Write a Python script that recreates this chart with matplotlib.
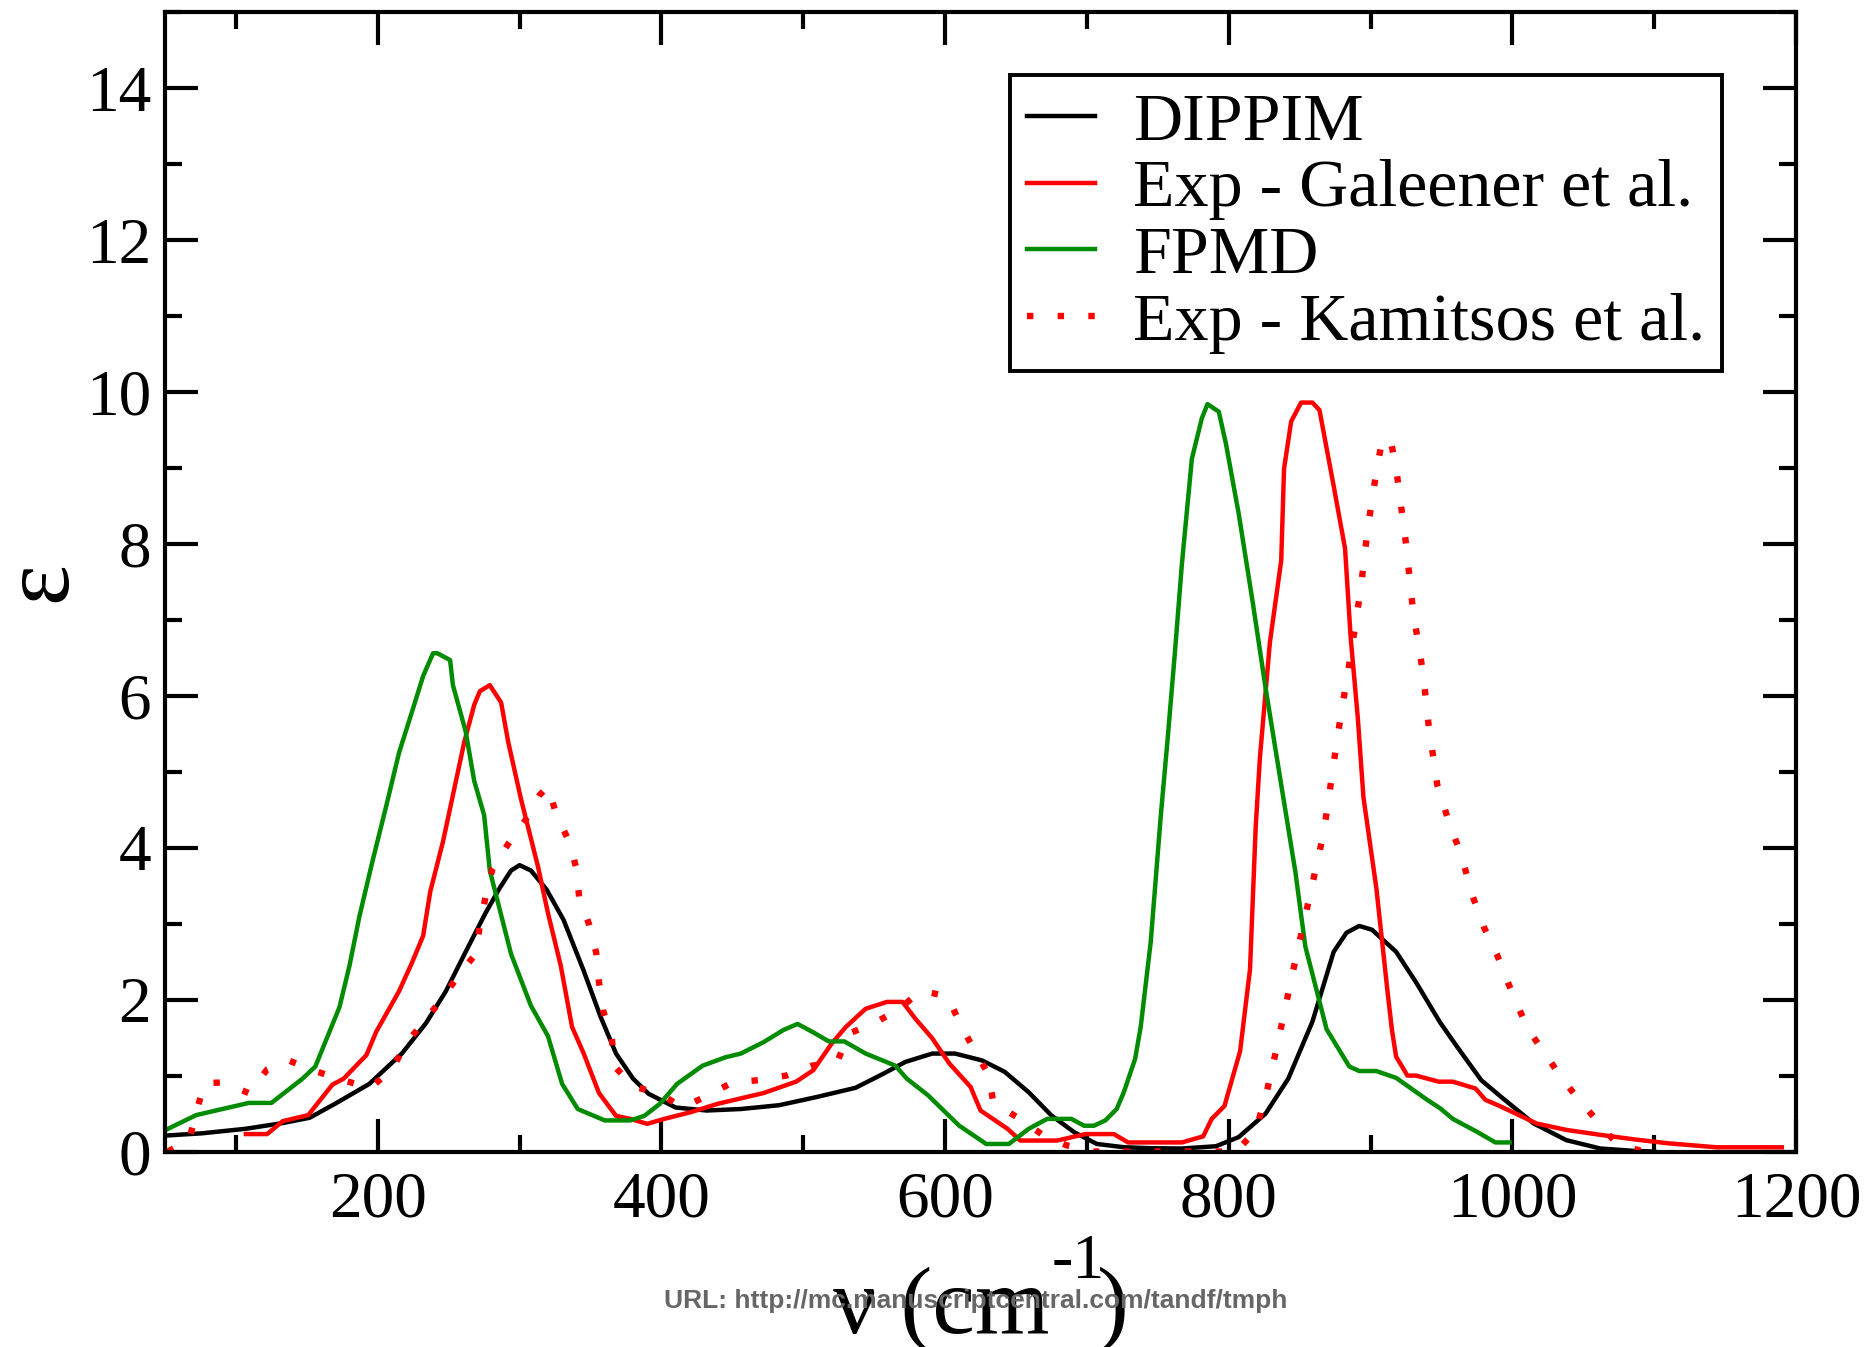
import matplotlib
matplotlib.use("Agg")
import matplotlib.pyplot as plt
from matplotlib.ticker import MultipleLocator

plt.rcParams["font.family"] = ["Liberation Serif", "DejaVu Serif"]

# ==============================
# DATA
# ==============================
# DIPPIM (black)
dippim_x = [50, 76, 107, 133, 152, 170, 194, 217, 234, 248, 262, 276, 286, 294, 300, 308,
            319, 331, 345, 357, 368, 380, 391, 410, 432, 456, 483, 510, 537, 556, 572, 591,
            607, 626, 642, 659, 675, 691, 707, 726, 745, 767, 791, 807, 826, 842, 859, 874,
            883, 892, 901, 918, 932, 949, 961, 978, 992, 1015, 1038, 1062, 1085, 1100]
dippim_y = [0.21, 0.24, 0.30, 0.375, 0.445, 0.63, 0.89, 1.29, 1.69, 2.11, 2.63, 3.14, 3.47, 3.70, 3.77, 3.70,
            3.45, 3.05, 2.39, 1.78, 1.29, 0.96, 0.76, 0.58, 0.54, 0.56, 0.61, 0.72, 0.84, 1.02, 1.18, 1.29,
            1.29, 1.20, 1.05, 0.78, 0.475, 0.255, 0.10, 0.057, 0.044, 0.04, 0.07, 0.19, 0.50, 0.96, 1.71, 2.63,
            2.88, 2.97, 2.92, 2.63, 2.23, 1.70, 1.38, 0.94, 0.72, 0.37, 0.15, 0.04, 0.01, 0.0]

# Exp - Galeener et al. (red, solid)
gal_x = [107, 122, 133, 151, 168, 176, 192, 199, 215, 224, 232, 237, 246, 254, 261, 268,
         272, 279, 287, 292, 301, 313, 320, 329, 337, 345, 356, 368, 378, 390, 402, 421,
         440, 472, 495, 507, 520, 530, 544, 559, 570, 579, 591, 603, 618, 625, 644, 653,
         679, 699, 719, 729, 767, 782, 788, 797, 808, 815, 819, 822, 829, 837, 839, 844,
         851, 859, 864, 874, 882, 886, 891, 895, 904, 912, 915, 918, 926, 932, 948, 958,
         974, 981, 991, 1017, 1038, 1062, 1086, 1109, 1144, 1190]
gal_y = [0.23, 0.23, 0.40, 0.48, 0.88, 0.96, 1.27, 1.58, 2.11, 2.48, 2.84, 3.42, 4.08, 4.78, 5.39, 5.88,
         6.06, 6.14, 5.91, 5.39, 4.64, 3.75, 3.14, 2.45, 1.64, 1.30, 0.77, 0.47, 0.43, 0.365, 0.43, 0.52,
         0.63, 0.77, 0.92, 1.07, 1.42, 1.64, 1.88, 1.97, 1.97, 1.75, 1.49, 1.16, 0.85, 0.54, 0.30, 0.145,
         0.145, 0.23, 0.23, 0.12, 0.12, 0.20, 0.43, 0.60, 1.32, 2.40, 4.27, 5.19, 6.70, 7.78, 8.99, 9.61,
         9.86, 9.86, 9.76, 8.76, 7.94, 6.76, 5.71, 4.66, 3.48, 2.10, 1.61, 1.25, 1.00, 1.00, 0.92, 0.92,
         0.83, 0.68, 0.60, 0.37, 0.285, 0.22, 0.16, 0.11, 0.056, 0.056]

# FPMD (green)
fpmd_x = [50, 72, 109, 125, 147, 156, 173, 180, 187, 196, 206, 215, 225, 232, 239, 242,
          251, 253, 262, 268, 275, 279, 294, 308, 320, 330, 341, 360, 378, 388, 399, 411,
          429, 445, 456, 472, 486, 496, 507, 518, 529, 544, 565, 573, 588, 610, 629, 645,
          659, 672, 689, 698, 705, 713, 721, 726, 734, 738, 745, 752, 757, 762, 767, 774,
          781, 785, 793, 798, 807, 817, 826, 835, 847, 854, 869, 885, 892, 904, 918, 940,
          949, 958, 975, 988, 998]
fpmd_y = [0.28, 0.48, 0.64, 0.64, 0.96, 1.12, 1.90, 2.44, 3.09, 3.80, 4.55, 5.25, 5.84, 6.26, 6.56, 6.56,
          6.47, 6.14, 5.53, 4.88, 4.43, 3.70, 2.60, 1.92, 1.52, 0.89, 0.56, 0.41, 0.41, 0.47, 0.63, 0.89,
          1.13, 1.24, 1.29, 1.44, 1.60, 1.68, 1.57, 1.45, 1.45, 1.29, 1.13, 0.96, 0.74, 0.34, 0.10, 0.10,
          0.30, 0.43, 0.43, 0.34, 0.34, 0.41, 0.56, 0.78, 1.22, 1.65, 2.76, 4.40, 5.45, 6.56, 7.74, 9.12,
          9.65, 9.84, 9.74, 9.32, 8.40, 7.22, 6.10, 5.06, 3.68, 2.70, 1.61, 1.12, 1.06, 1.06, 0.97, 0.68,
          0.57, 0.43, 0.26, 0.12, 0.12]

# Exp - Kamitsos et al. (red, dotted)
kam_x = [52, 67, 72, 78, 91, 109, 122, 137, 156, 175, 195, 210, 220, 232, 245, 257,
         269, 272, 276, 281, 292, 304, 314, 320, 326, 335, 340, 342, 349, 354, 356, 359,
         365, 367, 380, 399, 415, 434, 450, 469, 488, 506, 524, 532, 551, 568, 583, 602,
         611, 621, 631, 634, 651, 668, 686, 705, 760, 805, 819, 827, 834, 847, 856, 867,
         877, 887, 893, 898, 904, 908, 914, 918, 925, 930, 937, 941, 947, 955, 964, 972,
         980, 989, 995, 1003, 1011, 1023, 1035, 1047, 1060, 1074, 1093]
kam_y = [0.0, 0.15, 0.52, 0.90, 0.91, 0.77, 1.08, 1.20, 1.06, 0.94, 0.84, 1.08, 1.42, 1.70, 2.00, 2.32,
         2.60, 2.98, 3.35, 3.73, 4.05, 4.36, 4.69, 4.81, 4.43, 4.08, 3.73, 3.35, 2.99, 2.62, 2.23, 1.85,
         1.50, 1.12, 0.86, 0.76, 0.58, 0.75, 0.91, 0.94, 1.00, 1.13, 1.18, 1.55, 1.70, 1.88, 2.12, 2.04,
         1.66, 1.33, 1.00, 0.64, 0.45, 0.23, 0.08, 0.0, 0.0, 0.0, 0.27, 0.80, 1.38, 2.52, 3.27, 4.20,
         5.50, 6.65, 7.40, 8.20, 8.94, 9.35, 9.38, 9.00, 8.00, 7.11, 6.30, 5.60, 4.83, 4.35, 3.90, 3.36,
         2.95, 2.60, 2.31, 1.95, 1.61, 1.29, 0.96, 0.68, 0.40, 0.09, 0.0]

labels = ["DIPPIM", "Exp - Galeener et al.", "FPMD", "Exp - Kamitsos et al."]

# ==============================
# PLOT
# ==============================
fig = plt.figure(figsize=(18.75, 13.47), dpi=100)
ax = fig.add_axes([0.088, 0.1451, 0.8699, 0.8459])

lw = 3.2
ax.plot(dippim_x, dippim_y, color="black", lw=lw, label=labels[0])
ax.plot(gal_x, gal_y, color="#ff0000", lw=lw, label=labels[1])
ax.plot(fpmd_x, fpmd_y, color="#008b00", lw=lw, label=labels[2])
ax.plot(kam_x, kam_y, color="#ff0000", lw=4.6, linestyle=(0, (1.0, 3.8)),
        dash_capstyle="butt", label=labels[3])

ax.set_xlim(50, 1200)
ax.set_ylim(0, 15)
ax.xaxis.set_major_locator(MultipleLocator(200))
ax.xaxis.set_minor_locator(MultipleLocator(100))
ax.yaxis.set_major_locator(MultipleLocator(2))
ax.yaxis.set_minor_locator(MultipleLocator(1))
ax.tick_params(which="both", direction="in", top=True, right=True, width=3)
ax.tick_params(which="major", length=24, labelsize=47, pad=10)
ax.tick_params(which="minor", length=12)
ax.tick_params(axis="x", which="major", pad=14)
for s in ax.spines.values():
    s.set_linewidth(3)

ax.set_ylabel("ε", fontsize=70)
ax.yaxis.set_label_coords(-0.048, 0.5)

# x label built in pieces: "ν (cm", raised "-1", then ")"
xl_main = fig.text(0.4443, 0.0104, "ν (cm", fontsize=69, ha="left", va="baseline")
xl_sup = ax.annotate("-1", xy=(1, 0.0512), xycoords=(xl_main, "figure fraction"),
                     xytext=(2, 0), textcoords="offset pixels",
                     fontsize=46, ha="left", va="baseline", annotation_clip=False)
ax.annotate(")", xy=(1, 0.0104), xycoords=(xl_sup, "figure fraction"),
            xytext=(-8, 0), textcoords="offset pixels",
            fontsize=69, ha="left", va="baseline", annotation_clip=False)

leg = ax.legend(loc="upper right", bbox_to_anchor=(0.9184, 0.9443),
                bbox_transform=fig.transFigure, fontsize=49, frameon=True,
                fancybox=False, framealpha=1, edgecolor="black",
                handlelength=1.0, handletextpad=0.55, labelspacing=0.075,
                borderpad=0.25, borderaxespad=0)
leg.get_frame().set_linewidth(2.8)

fig.text(0.5205, 0.029, "URL: http://mc.manuscriptcentral.com/tandf/tmph",
         family="Liberation Sans", weight="bold", fontsize=19, color="#666666",
         ha="center", va="baseline")

fig.savefig("out.png", dpi=100)
